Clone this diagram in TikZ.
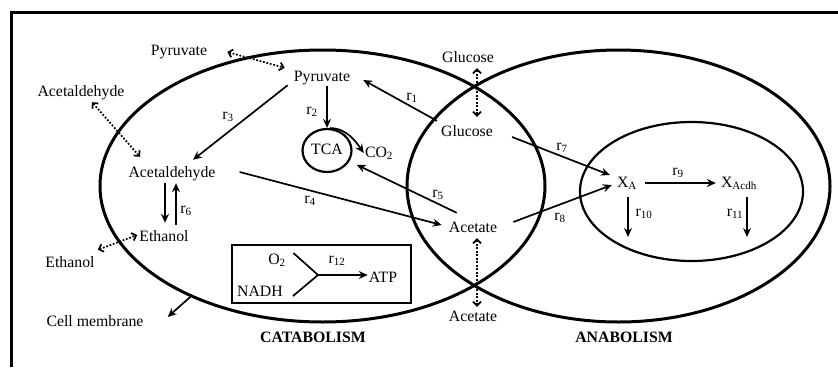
\documentclass[tikz,border=0pt]{standalone}
\usepackage{fontspec}
\setmainfont{Liberation Serif}
\usetikzlibrary{arrows.meta,shapes.geometric}
\begin{document}
\begin{tikzpicture}[x=1pt,y=-1pt,
  every node/.style={font=\fontsize{15.8}{18}\selectfont, inner sep=2pt, text height=11pt, text depth=3pt},
  boldlbl/.style={font=\fontsize{15.8}{18}\selectfont\bfseries},
  region/.style={draw, ellipse, line width=3pt, inner sep=0pt, text height=, text depth=},
  arr/.style={line width=1.7pt, -{Stealth[length=9pt,width=8pt,inset=3pt]}},
  dotarr/.style={line width=1.7pt, dash pattern=on 1.8pt off 1.7pt,
     {Straight Barb[length=4pt,width=8pt]}-{Straight Barb[length=4pt,width=8pt]}},
  plain/.style={line width=1.7pt},
]
\useasboundingbox (0,0) rectangle (838,367);
% frame
\draw[line width=3.5pt, line join=miter] (11.5,367) -- (11.5,12.5) -- (838,12.5);
% regions
\node[region, minimum width=445pt, minimum height=272pt] (cat) at (322.5,186) {};
\node[region, minimum width=423pt, minimum height=272pt] (ana) at (618.5,186) {};
\node[region, line width=2.2pt, minimum width=223pt, minimum height=139pt] (inner) at (691.5,191.5) {};

% metabolites
\node (pyrOut) at (179,51) {Pyruvate};
\node (pyrIn) at (322,77) {Pyruvate};
\node (acOut) at (81,92) {Acetaldehyde};
\node (acIn) at (172,173) {Acetaldehyde};
\node (ethIn) at (164,237) {Ethanol};
\node (ethOut) at (70,263) {Ethanol};
\node (membl) at (95,322) {Cell membrane};
\node (glcOut) at (468,58) {Glucose};
\node (glcIn) at (467,132) {Glucose};
\node (atIn) at (473,228) {Acetate};
\node (atOut) at (473,317) {Acetate};
\node[draw, ellipse, line width=2.2pt, inner sep=0pt, minimum width=49pt, minimum height=43pt] (tca) at (327,150.5) {TCA};
\node (co2) at (379,153) {CO\textsubscript{2}};
\node (xA) at (627,183) {X\textsubscript{A}};
\node (xAc) at (739,183) {X\textsubscript{Acdh}};

% reaction labels
\node (r1) at (412,96) {r\textsubscript{1}};
\node (r2) at (312,110) {r\textsubscript{2}};
\node (r3) at (228,115) {r\textsubscript{3}};
\node (r4) at (310,199) {r\textsubscript{4}};
\node (r5) at (438,193) {r\textsubscript{5}};
\node (r6) at (186,209) {r\textsubscript{6}};
\node (r7) at (562,146) {r\textsubscript{7}};
\node (r8) at (560,216) {r\textsubscript{8}};
\node (r9) at (678,171) {r\textsubscript{9}};
\node (r10) at (644,212) {r\textsubscript{10}};
\node (r11) at (735,212) {r\textsubscript{11}};

% oxidative box
\node[draw, line width=1.8pt, minimum width=179pt, minimum height=58pt, inner sep=0pt, text height=, text depth=] (box) at (321.5,274) {};
\node (o2) at (277,260) {O\textsubscript{2}};
\node (nadh) at (260,292) {NADH};
\node (atp) at (383,278) {ATP};
\node (r12) at (337,259) {r\textsubscript{12}};
\coordinate (jn) at (318,275);

% section titles
\node[boldlbl] (catl) at (313,338) {CATABOLISM};
\node[boldlbl] (anal) at (624,338) {ANABOLISM};

% free ends
\coordinate (d10) at (628,237);
\coordinate (d11) at (747,237);

% transport (dotted)
\draw[dotarr] ([xshift=18pt,yshift=-1pt]pyrOut.east) -- ([xshift=-7pt]pyrIn.north west);
\draw[dotarr] ([xshift=11pt,yshift=-1pt]acOut.south) -- ([xshift=-32pt,yshift=7pt]acIn.north);
\draw[dotarr] ([xshift=1pt,yshift=4pt]ethOut.north east) -- ([yshift=2pt]ethIn.west);
\draw[dotarr] ([xshift=9pt,yshift=-1pt]glcOut.south) -- ([xshift=10pt,yshift=6pt]glcIn.north);
\draw[dotarr] ([xshift=4pt,yshift=-1pt]atIn.south) -- ([xshift=4pt,yshift=1pt]atOut.north);

% reactions
\draw[arr] ([xshift=-2pt,yshift=2pt]glcIn.north west) -- ([xshift=11pt,yshift=-3pt]pyrIn.east);
\draw[arr] (pyrIn.south -| tca.north) -- (tca.north);
\draw[arr] (tca.82) .. controls +(17,0) and +(-7,-10) .. ([xshift=1pt]co2.west);
\draw[arr] ([xshift=-4pt,yshift=1pt]pyrIn.south west) -- ([xshift=21pt,yshift=4pt]acIn.north);
\draw[arr] ([xshift=22pt,yshift=1pt]acIn.east) -- ([xshift=-5pt,yshift=3pt]atIn.west);
\draw[arr, shorten >=8pt] ([xshift=10pt,yshift=6pt]atIn.north west) -- (tca);
\draw[arr] ([xshift=-7pt,yshift=-1pt]acIn.south) -- ([xshift=1pt,yshift=5pt]ethIn.north);
\draw[arr] ([xshift=12pt,yshift=3pt]ethIn.north) -- ([xshift=4pt,yshift=-1pt]acIn.south);
\draw[arr] ([xshift=17pt,yshift=-5pt]glcIn.east) -- ([xshift=-5pt,yshift=8pt]xA.west);
\draw[arr] ([xshift=14pt,yshift=6pt]atIn.east) -- ([xshift=-3pt,yshift=-2pt]xA.west);
\draw[arr] ([xshift=6pt]xA.east) -- ([xshift=-3pt]xAc.west);
\draw[arr] ([xshift=1pt,yshift=-5pt]xA.south) -- (d10);
\draw[arr] ([xshift=8pt,yshift=-5pt]xAc.south) -- (d11);
\draw[arr] (cat.220) -- ([xshift=22pt,yshift=5pt]membl.east);
\draw[plain] ([xshift=5.5pt,yshift=7pt]o2.east) -- (jn);
\draw[plain] ([xshift=8pt,yshift=-4pt]nadh.east) -- (jn);
\draw[arr] (jn) -- ([xshift=1pt]jn -| atp.west);
\end{tikzpicture}
\end{document}
